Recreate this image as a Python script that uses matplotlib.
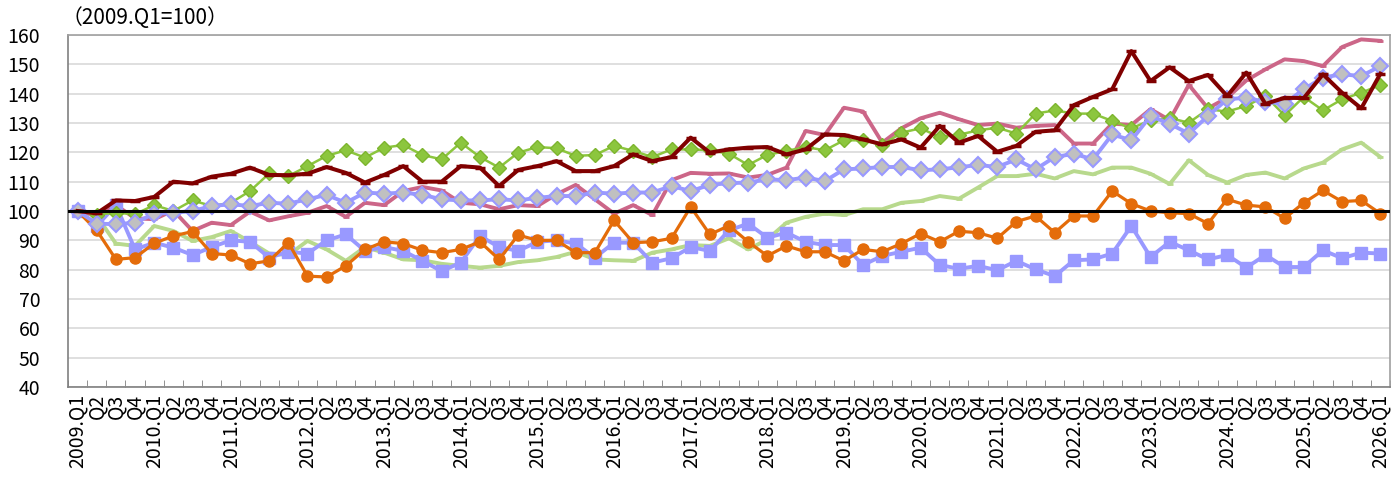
import numpy as np
import matplotlib.pyplot as plt

plt.rcParams['font.family'] = ['Noto Sans CJK JP', 'DejaVu Sans']

# quarter labels 2009.Q1 .. 2026.Q1
labels = []
for year in range(2009, 2027):
    for q in range(1, 5):
        labels.append(f"{year}.Q1" if q == 1 else f"Q{q}")
labels = labels[:69]

dark_red = [100, 99.2, 103.6, 103.4, 104.8, 110, 109.4, 111.7, 112.7, 114.8, 112.3, 112.2,
            112.7, 115, 113, 109.7, 112.3, 115.3, 110, 110, 115.3, 114.8, 108.5, 114,
            115.3, 117, 113.6, 113.6, 115.3, 119.3, 117, 118.4, 125, 119.9, 121,
            121.6, 121.8, 119.3, 121, 126.1, 125.9, 124.4, 122.7, 124.4, 121.6, 129, 123.3,
            125.6, 120.2, 122.2, 127, 127.5, 136.1, 138.9, 141.5, 154.5, 144.3, 149,
            144.3, 146.4, 139.2, 147.2, 136.5, 138.6, 138.5, 146.6, 140.3, 135, 146.8]

green = [100, 98.8, 99.4, 98.9, 102, 100, 103.6, 101.7, 102.8, 106.8, 112.8, 111.9,
         115.3, 118.8, 120.7, 118.2, 121.6, 122.5, 119.1, 117.6, 123.3, 118.4, 114.8, 119.9,
         121.8, 121.4, 118.8, 119.1, 122.2, 120.5, 118.4, 121, 121, 120.7, 119.5,
         115.7, 119.1, 120.5, 121.8, 120.7, 124.1, 124.1, 122.5, 126.7, 128.2, 125.2, 126,
         127.5, 128.4, 126.4, 133.2, 134.3, 133.2, 133.2, 130.7, 128.2, 130.9, 131.7,
         130.1, 134.7, 133.9, 135.8, 139.2, 132.6, 138.9, 134.3, 138.1, 140.3, 143]

pink = [100, 98.5, 102, 97.5, 97.2, 100.2, 93.2, 96, 95.2, 99.8, 96.8, 98.2,
        99.4, 101.7, 98, 102.8, 102, 106.8, 108.2, 107, 102.8, 102.3, 100.6, 102,
        101.7, 105.7, 108.9, 104, 99.1, 102, 98.6, 110.5, 113, 112.7, 112.8,
        111.4, 112.3, 114.8, 127.3, 125.9, 135.2, 133.9, 123.3, 128.2, 131.6, 133.5, 131.3,
        129.3, 129.8, 128.4, 129, 129.3, 123, 123, 129.8, 129.3, 134.7, 131,
        143, 135, 138.6, 144.5, 148.3, 151.7, 151.1, 149.4, 155.9, 158.5, 158]

gray_diamond = [100, 95.7, 95.5, 96, 99.1, 99.4, 100, 101.7, 102.3, 101.7, 102.8, 102.5,
                104, 105.5, 102.8, 106.3, 105.9, 106.3, 105.5, 104, 103.6, 103.6, 104, 103.6,
                104.5, 105.1, 105.1, 106.3, 105.9, 106.3, 106.3, 108.5, 106.8, 108.9, 109.5,
                109.7, 110.8, 110.5, 111.4, 110.2, 114.2, 114.5, 115, 115, 113.9, 114.2, 114.9,
                115.7, 115, 117.6, 114.2, 118.4, 119.5, 117.6, 126.1, 124.1, 132.4, 129.7,
                126.4, 132.4, 138.1, 138.6, 137.2, 136.6, 141.5, 145.5, 146.6, 146, 149.4]

orange = [100, 93.4, 83.5, 84.1, 89, 91.5, 93, 85.5, 85, 82, 83, 89.2,
          77.8, 77.5, 81.3, 86.9, 89.5, 88.9, 86.6, 85.8, 86.9, 89.5, 83.5, 91.8,
          90, 90, 85.8, 85.8, 96.8, 89.2, 89.5, 90.7, 101.4, 92, 95,
          89.5, 84.7, 88.1, 86.1, 86.1, 83, 86.9, 86.1, 88.9, 92.3, 89.5, 93.1,
          92.6, 90.7, 96.4, 98.3, 92.6, 98.3, 98.3, 106.8, 102.5, 100, 99.4,
          99.1, 95.7, 104, 102, 101.4, 97.5, 102.8, 107, 103.2, 103.6, 99.1]

light_green = [100, 98.3, 88.9, 88.1, 94.9, 93.2, 89.8, 91.1, 93.2, 89.5, 85.5, 85,
               89.8, 86.9, 83, 87.7, 85.8, 83.5, 83.2, 82, 81.3, 80.7, 81.3, 82.6,
               83.2, 84.3, 86.1, 83.5, 83.2, 83, 85.8, 86.9, 88.4, 88.1, 90.7,
               86.9, 90.3, 96, 98, 99.1, 98.6, 100.6, 100.6, 102.8, 103.4, 105.1, 104.2,
               108, 111.9, 111.9, 112.7, 111.1, 113.6, 112.5, 114.8, 114.8, 112.7, 109.2,
               117.3, 112.3, 109.7, 112.3, 113.1, 111.1, 114.5, 116.5, 121, 123.3, 118.4]

squares = [100, 94.9, 102, 86.9, 89.2, 87.5, 85, 87.7, 90, 89.5, 84.1, 86.1,
           85.5, 90, 92, 86.4, 87.7, 86.4, 83, 79.5, 82.4, 91.5, 87.7, 86.4,
           89.5, 90, 88.9, 84.1, 89.2, 89.2, 82.4, 83.9, 87.7, 86.4, 93.4,
           95.7, 90.9, 92.6, 89.5, 88.4, 88.4, 81.6, 84.7, 86.1, 87.5, 81.6, 80.3,
           81.3, 79.8, 83, 80.1, 77.8, 83.2, 83.5, 85.5, 94.9, 84.3, 89.5,
           86.6, 83.5, 85, 80.7, 85, 80.9, 80.9, 86.6, 83.9, 85.8, 85.5]

x = np.arange(len(labels))

fig = plt.figure(figsize=(13.94, 4.84), dpi=100)
ax = fig.add_axes([68 / 1394, 1 - 387 / 484, (1390 - 68) / 1394, (387 - 35) / 484])

ax.plot(x, light_green, color='#B8D98D', lw=2.8, marker='_', ms=5, mew=2, zorder=2)
ax.plot(x, pink, color='#CC6688', lw=2.8, marker='_', ms=5, mew=2, zorder=3)
ax.plot(x, squares, color='#9999FF', lw=2.8, marker='s', ms=8.5, zorder=4)
ax.plot(x, orange, color='#E46C0A', lw=2.3, marker='o', ms=8, zorder=5)
ax.plot(x, green, color='#8CC63E', lw=1.8, marker='D', ms=7, mfc='#8CC63E', mec='#7DB52E', zorder=6)
ax.plot(x, gray_diamond, color='#9999FF', lw=2.8, marker='D', ms=8.5,
        mfc='#C0C0C0', mec='#9999FF', mew=1.5, zorder=7)
ax.plot(x, dark_red, color='#800000', lw=2.9, marker='_', ms=7, mew=2.5, zorder=8)

ax.axhline(100, color='black', lw=2.2, zorder=10)

ax.set_xlim(-0.5, len(labels) - 0.5)
ax.set_ylim(40, 160)
ax.set_yticks(range(40, 161, 10))
ax.yaxis.grid(True, color='#D9D9D9', lw=1.2)
ax.set_axisbelow(True)

ax.set_xticks(x)
ax.set_xticklabels(labels, rotation=90, fontsize=14)
ax.set_xticks(np.arange(-0.5, len(labels), 1), minor=True)
ax.tick_params(axis='x', which='major', length=0, pad=5)
ax.tick_params(axis='x', which='minor', direction='in', length=5, color='#808080')
ax.tick_params(axis='y', labelsize=14, length=0, pad=20)

for side in ['left', 'bottom']:
    ax.spines[side].set_color('#808080')
    ax.spines[side].set_linewidth(1.2)
for side in ['top', 'right']:
    ax.spines[side].set_color('#A0A0A0')
    ax.spines[side].set_linewidth(1.2)

fig.text(62 / 1394, 1 - 18 / 484, '（2009.Q1=100）', fontsize=15, va='center', ha='left')

fig.savefig('out.png', dpi=100)
